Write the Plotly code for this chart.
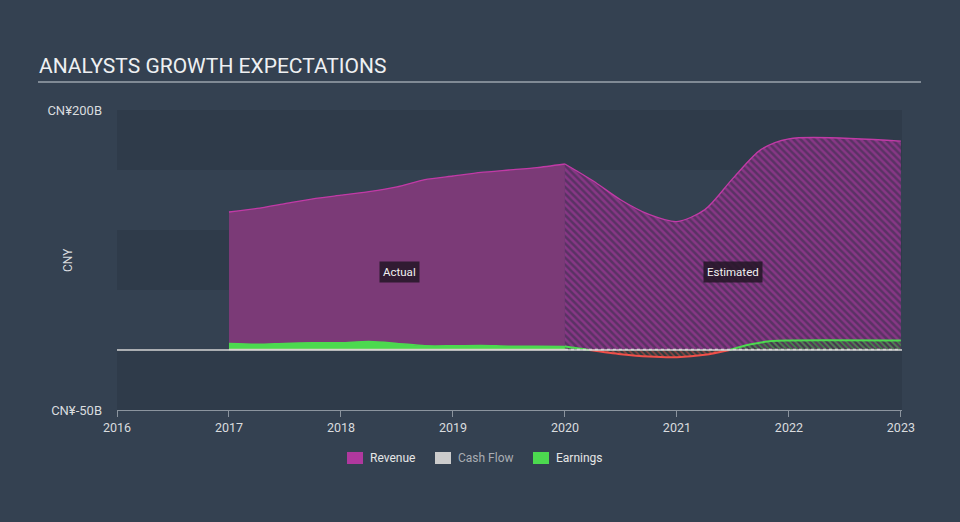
import plotly.graph_objects as go

# ---- data (CNY billions, decimal years) ----
rev_act_x = [2017.0, 2017.25, 2017.5, 2017.75, 2018.0, 2018.25, 2018.5, 2018.75, 2019.0, 2019.25, 2019.5, 2019.75, 2020.0]
rev_act_y = [115, 118, 122, 126, 129, 132, 136, 142, 145, 148, 150, 152, 155]
rev_est_x = [2020.0, 2020.25, 2020.5, 2020.75, 2021.0, 2021.25, 2021.5, 2021.75, 2022.0, 2023.0]
rev_est_y = [155, 141, 125, 113, 107, 117, 143, 167, 176, 174]

earn_act_x = [2017.0, 2017.25, 2017.5, 2017.75, 2018.0, 2018.25, 2018.5, 2018.75, 2019.0, 2019.25, 2019.5, 2019.75, 2020.0]
earn_act_y = [5.5, 4.8, 5.5, 6.0, 6.0, 7.0, 5.5, 3.5, 3.5, 3.8, 3.2, 3.2, 3.0]
earn_est_pos1_x = [2020.0, 2020.22]
earn_est_pos1_y = [3.0, 0.0]
earn_est_neg_x = [2020.22, 2020.5, 2020.75, 2021.0, 2021.25, 2021.47]
earn_est_neg_y = [0.0, -3.5, -5.5, -6.0, -4.0, 0.0]
earn_est_pos2_x = [2021.47, 2021.65, 2021.85, 2022.0, 2023.0]
earn_est_pos2_y = [0.0, 4.5, 7.5, 8.0, 8.0]

cash_act_x = [2017.0, 2018.0, 2019.0, 2020.0]
cash_act_y = [0.4, 0.4, 0.4, 0.4]
cash_est_x = [2020.0, 2021.0, 2022.0, 2023.0]
cash_est_y = [0.4, 0.4, 0.4, 0.4]

year_ticks = [2016, 2017, 2018, 2019, 2020, 2021, 2022, 2023]
y_ticks = [-50, 200]
y_tick_labels = ["CN¥-50B", "CN¥200B"]
band_edges = [(150, 200), (50, 100), (-50, 0)]

PAPER = "#344151"
BAND = "#2f3b4a"
REV_LINE = "#c13aa6"
REV_FILL = "#7b3a77"
GREEN = "#4cd94f"
RED = "#f0504a"

fig = go.Figure()

# Revenue actual
fig.add_trace(go.Scatter(x=rev_act_x, y=rev_act_y, mode="lines", fill="tozeroy",
                         fillcolor=REV_FILL, line=dict(color=REV_LINE, width=1.3, shape="spline", smoothing=0.6),
                         hoverinfo="skip", showlegend=False))
# Revenue estimated (hatched)
fig.add_trace(go.Scatter(x=rev_est_x, y=rev_est_y, mode="lines", fill="tozeroy",
                         fillcolor="rgba(0,0,0,0)",
                         fillpattern=dict(shape="\\", fgcolor="#b43ca6", bgcolor="#5a3264", size=5, solidity=0.5),
                         line=dict(color=REV_LINE, width=1.3, shape="spline", smoothing=0.8),
                         hoverinfo="skip", showlegend=False))
# Earnings actual
fig.add_trace(go.Scatter(x=earn_act_x, y=earn_act_y, mode="lines", fill="tozeroy",
                         fillcolor=GREEN, line=dict(color=GREEN, width=1.5, shape="spline", smoothing=0.8),
                         hoverinfo="skip", showlegend=False))
# Earnings estimated
for xs, ys, col in [(earn_est_pos1_x, earn_est_pos1_y, GREEN),
                    (earn_est_neg_x, earn_est_neg_y, RED),
                    (earn_est_pos2_x, earn_est_pos2_y, GREEN)]:
    fig.add_trace(go.Scatter(x=xs, y=ys, mode="lines", fill="tozeroy",
                             fillcolor="rgba(0,0,0,0)",
                             fillpattern=dict(shape="\\", fgcolor=col, bgcolor="rgba(40,60,50,0.5)", size=4, solidity=0.4),
                             line=dict(color=col, width=2, shape="spline", smoothing=0.8),
                             hoverinfo="skip", showlegend=False))
# Cash flow
fig.add_trace(go.Scatter(x=cash_act_x, y=cash_act_y, mode="lines",
                         line=dict(color="#d9d0b5", width=1.5), hoverinfo="skip", showlegend=False))
fig.add_trace(go.Scatter(x=cash_est_x, y=cash_est_y, mode="lines",
                         line=dict(color="#dcdcdc", width=1.5, dash="dot"), hoverinfo="skip", showlegend=False))

plot_l, plot_r, plot_t, plot_b = 117, 902, 110, 410
pw, ph = plot_r - plot_l, plot_b - plot_t

def px_x(v):
    return (v - plot_l) / pw

def px_y(v):
    return (plot_b - v) / ph

shapes = []
# horizontal bands
for y0, y1 in band_edges:
    shapes.append(dict(type="rect", xref="paper", yref="y", x0=0, x1=1, y0=y0, y1=y1,
                       fillcolor=BAND, line=dict(width=0), layer="below"))
# zero line
shapes.append(dict(type="line", xref="paper", yref="y", x0=0, x1=1, y0=0, y1=0,
                   line=dict(color="#d5d5d5", width=1.5), layer="above"))
# title underline
shapes.append(dict(type="line", xref="paper", yref="paper", x0=px_x(38), x1=px_x(921),
                   y0=px_y(82), y1=px_y(82), line=dict(color="#9aa3ad", width=1.5)))

# legend
leg_items = [("Revenue", "#b0389e", "#e6e6e6", 347), ("Cash Flow", "#cccccc", "#a9adb3", 435), ("Earnings", GREEN, "#e6e6e6", 533)]
annotations = []
for name, col, tcol, px in leg_items:
    shapes.append(dict(type="rect", xref="paper", yref="paper", x0=px_x(px), x1=px_x(px + 16),
                       y0=px_y(464), y1=px_y(452), fillcolor=col, line=dict(width=0)))
    annotations.append(dict(xref="paper", yref="paper", x=px_x(px + 21), y=px_y(458), text=name,
                            showarrow=False, xanchor="left", yanchor="middle",
                            font=dict(size=12, color=tcol, family="Roboto")))

# Actual / Estimated labels
for txt, xv in [("Actual", 2018.52), ("Estimated", 2021.5)]:
    annotations.append(dict(x=xv, y=65, xref="x", yref="y", text=txt, showarrow=False,
                            bgcolor="rgba(35,22,38,0.85)", borderpad=3,
                            font=dict(size=11.5, color="#f0f0f0", family="Roboto")))

# title
annotations.append(dict(xref="paper", yref="paper", x=px_x(37), y=px_y(80), text="ANALYSTS GROWTH EXPECTATIONS",
                        showarrow=False, xanchor="left", yanchor="bottom",
                        font=dict(size=21, color="#eef0f2", family="Roboto")))
# y axis title
annotations.append(dict(xref="paper", yref="paper", x=px_x(68), y=0.5, text="CNY", textangle=-90,
                        showarrow=False, xanchor="center", yanchor="middle",
                        font=dict(size=12, color="#d9dcdf", family="Roboto")))

fig.update_layout(
    width=960, height=522,
    paper_bgcolor=PAPER, plot_bgcolor=PAPER,
    margin=dict(l=117, r=58, t=110, b=112),
    shapes=shapes, annotations=annotations,
    showlegend=False,
    font=dict(family="Roboto", color="#d0d4d8", size=12),
    xaxis=dict(range=[2016, 2023.01], tickvals=year_ticks, ticktext=[str(v) for v in year_ticks],
               showgrid=False, zeroline=False, showline=True, linecolor="#8b949e", linewidth=1,
               ticks="outside", ticklen=6, tickcolor="#8b949e", tickfont=dict(size=12.5, color="#d9dcdf")),
    yaxis=dict(range=[-50, 200], tickvals=y_ticks, ticktext=y_tick_labels, showgrid=False,
               zeroline=False, ticks="", ticklabelstandoff=14, tickfont=dict(size=13, color="#d9dcdf")),
)

fig.write_html("out.html")
